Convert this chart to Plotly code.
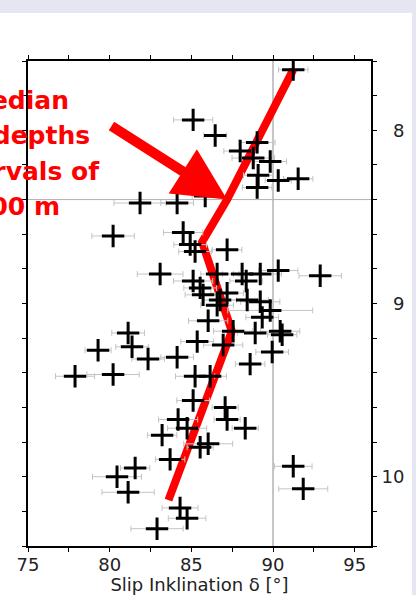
import plotly.graph_objects as go

# ---- data ----
slip_incl = [91.24, 85.11, 86.46, 89.03, 87.99, 88.79, 89.83, 89.09, 90.32, 91.54,
             89.03, 81.86, 84.13, 85.85, 80.21, 84.50, 84.93, 85.23, 87.19, 83.09,
             85.11, 85.54, 85.72, 86.58, 88.11, 88.36, 89.22, 90.32, 92.89, 87.19,
             86.76, 88.42, 89.22, 89.83, 86.58, 89.34, 86.03, 87.56, 88.91, 90.44,
             90.56, 81.13, 81.37, 79.29, 85.36, 86.95, 82.35, 84.13, 89.95, 88.60,
             77.88, 80.21, 85.23, 86.15, 85.11, 87.07, 84.19, 84.74, 87.19, 88.30,
             83.21, 86.03, 85.54, 83.70, 81.56, 80.45, 81.13, 91.24, 91.85, 84.31,
             84.74, 82.90]
depth_km = [7.65, 7.94, 8.03, 8.07, 8.12, 8.16, 8.18, 8.26, 8.29, 8.28,
            8.33, 8.42, 8.42, 8.38, 8.61, 8.59, 8.66, 8.70, 8.69, 8.83,
            8.87, 8.91, 8.95, 8.83, 8.83, 8.87, 8.83, 8.81, 8.84, 8.94,
            8.98, 8.98, 8.99, 9.04, 9.01, 9.08, 9.10, 9.16, 9.17, 9.16,
            9.18, 9.17, 9.25, 9.27, 9.22, 9.24, 9.32, 9.31, 9.28, 9.35,
            9.42, 9.41, 9.42, 9.42, 9.56, 9.60, 9.67, 9.72, 9.67, 9.72,
            9.76, 9.81, 9.83, 9.90, 9.95, 10.00, 10.09, 9.94, 10.07, 10.18,
            10.24, 10.30]
incl_err = [0.9, 1.2, 0.7, 1.1, 1.0, 1.3, 1.0, 0.9, 0.8, 0.9,
            0.9, 1.6, 1.0, 0.8, 1.3, 1.2, 1.0, 1.0, 0.9, 1.4,
            1.2, 1.0, 1.1, 1.0, 1.2, 1.0, 1.3, 1.2, 1.3, 1.0,
            1.0, 1.3, 1.2, 2.6, 1.0, 1.0, 1.2, 1.2, 1.1, 1.2,
            0.9, 1.0, 1.0, 0.8, 1.0, 1.2, 1.0, 1.0, 1.0, 0.9,
            1.2, 1.6, 1.2, 1.0, 1.0, 0.8, 1.2, 1.2, 0.8, 0.8,
            0.9, 1.5, 0.8, 0.9, 0.9, 1.5, 1.6, 1.15, 1.5, 1.1,
            1.15, 1.6]

median_incl = [91.24, 87.19, 85.66, 87.48, 83.60]
median_depth = [7.65, 8.40, 8.645, 9.16, 10.135]

x_ticks = [75, 80, 85, 90, 95]
y_ticks = [8, 9, 10]
y_tick_text = ["\u20078", "\u20079", "10"]
x_range = [75, 96]
y_range = [10.4, 7.6]
ref_incl = 90
ref_depth = 8.4

arrow_tip = (87.19, 8.40)
arrow_tail = (80.02, 7.97)

label_lines = ["Median", "of depths", "in intervals of", "200 m"]
label_right_px = [71, 92, 102, 62]
label_mid_px = [100, 135, 171, 206]

W, H = 416, 595
ML, MR, MT, MB = 28, 45, 61, 49
PW, PH = W - ML - MR, H - MT - MB

fig = go.Figure()

fig.add_trace(go.Scatter(
    x=median_incl, y=median_depth, mode="lines",
    line=dict(color="#ff0000", width=8), hoverinfo="skip", showlegend=False))

fig.add_trace(go.Scatter(
    x=slip_incl, y=depth_km, mode="markers",
    marker=dict(symbol="cross-thin", size=16, line=dict(color="black", width=3)),
    error_x=dict(type="data", array=incl_err, color="#c4c4c4", thickness=1, width=3),
    showlegend=False))

shapes = [
    dict(type="rect", xref="paper", yref="paper",
         x0=-ML / PW, x1=(412 - ML) / PW, y0=-(MB + 5) / PH, y1=(H - MB - 13) / PH,
         fillcolor="white", line=dict(width=0), layer="below"),
    dict(type="line", xref="x", yref="paper", x0=ref_incl, x1=ref_incl, y0=0, y1=1,
         line=dict(color="#8c8c8c", width=1), layer="below"),
    dict(type="line", xref="paper", yref="y", x0=0, x1=1, y0=ref_depth, y1=ref_depth,
         line=dict(color="#b0b0b0", width=1), layer="below"),
]

annotations = []
for txt, rx, my in zip(label_lines, label_right_px, label_mid_px):
    annotations.append(dict(
        text=txt, xref="paper", yref="paper",
        x=(rx - ML) / PW, y=(H - MB - my) / PH,
        xanchor="right", yanchor="middle", showarrow=False,
        font=dict(family="DejaVu Sans", size=25, color="#ff0000", weight="bold")))

annotations.append(dict(
    text="", x=arrow_tip[0], y=arrow_tip[1], xref="x", yref="y",
    ax=arrow_tail[0], ay=arrow_tail[1], axref="x", ayref="y",
    showarrow=True, arrowhead=2, arrowsize=1.05, arrowwidth=10, arrowcolor="#ff0000"))

axis_font = dict(family="DejaVu Sans, sans-serif", size=18, color="#222222")

fig.update_layout(
    width=W, height=H,
    margin=dict(l=ML, r=MR, t=MT, b=MB, autoexpand=False),
    paper_bgcolor="#e6e6f2", plot_bgcolor="white",
    shapes=shapes, annotations=annotations,
    xaxis=dict(range=x_range, tickvals=x_ticks, ticks="outside", ticklen=4, tickwidth=1,
               tickcolor="black", showline=True, linecolor="black", linewidth=2,
               mirror="ticks", showgrid=False, zeroline=False, tickfont=axis_font,
               ticklabelstandoff=-3,
               minor=dict(dtick=2.5, tick0=75, ticks="outside", ticklen=4, tickcolor="black",
                          showgrid=False),
               title=dict(text="Slip Inklination δ [°]", font=axis_font, standoff=0)),
    yaxis=dict(range=y_range, side="right", tickvals=y_ticks, ticktext=y_tick_text,
               ticks="outside", ticklen=4,
               tickwidth=1, tickcolor="black", showline=True, linecolor="black", linewidth=2,
               mirror="ticks", showgrid=False, zeroline=False, tickfont=axis_font,
               ticklabelstandoff=1,
               minor=dict(dtick=0.2, tick0=0, ticks="outside", ticklen=4, tickcolor="black",
                          showgrid=False)),
)

fig.write_html("out.html")
